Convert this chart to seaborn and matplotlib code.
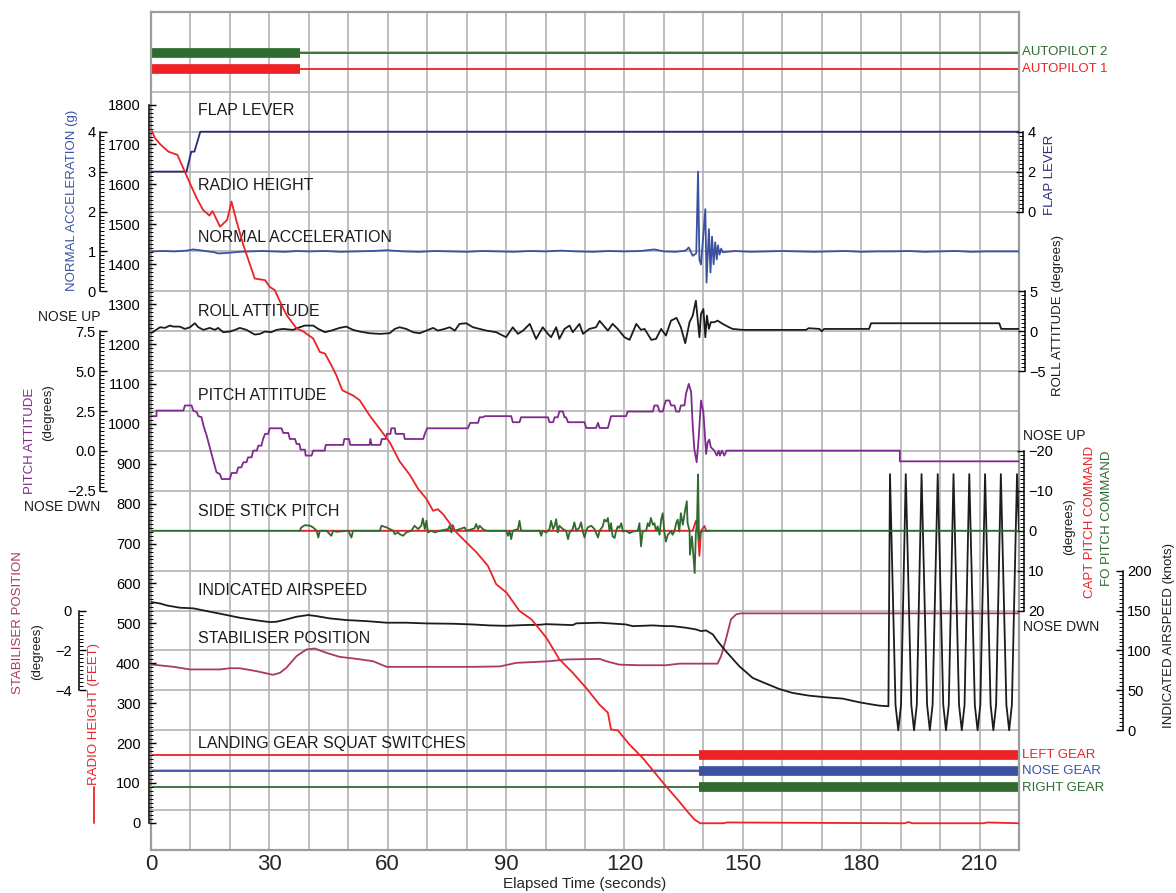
"""Flight data recorder traces: final approach and landing, 0-220 s."""

import matplotlib
matplotlib.use("Agg")
import matplotlib.pyplot as plt
import numpy as np
import seaborn as sns
from matplotlib.lines import Line2D
from matplotlib.ticker import FixedLocator, FuncFormatter

# ---- data (time in seconds) ----
flap_t = [0, 9.0, 10.2, 11.0, 12.5, 220]
flap_v = [2, 2, 3, 3, 4, 4]

rh_t = [0, 1.0, 2.3, 4.4, 6.7, 7.8, 9.5, 11.6, 13.2, 14.8, 15.6, 17.5, 19.3, 20.4, 21.7,
        23.4, 26.3, 28.9, 30.1, 31.4, 32.7, 34.4, 36.9, 38.5, 41.1, 42.8, 44.1, 45.7, 47.0,
        48.5, 51.2, 52.9, 55.4, 58.0, 60.5, 63.0, 65.6, 67.7, 69.8, 71.5, 72.7, 74.0, 77.4,
        79.9, 82.5, 85.4, 87.5, 90.1, 93.4, 96.4, 98.5, 100.2, 103.5, 106.9, 110.3, 113.7,
        115.8, 116.6, 118.3, 121.3, 124.6, 127.5, 130.5, 133.5, 136.0, 137.8, 139.2, 145,
        146, 191, 192, 193, 211, 212, 220]
rh_v = [1739, 1716, 1701, 1682, 1674, 1649, 1611, 1565, 1536, 1522, 1533, 1494, 1511, 1557,
        1507, 1448, 1364, 1360, 1343, 1335, 1306, 1272, 1239, 1232, 1214, 1180, 1176, 1147,
        1121, 1084, 1071, 1059, 1021, 987, 954, 906, 872, 837, 812, 782, 786, 774, 728, 703,
        678, 644, 598, 577, 531, 510, 485, 464, 410, 376, 338, 296, 276, 234, 232, 196, 163,
        128, 92, 58, 28, 8, -1, -1, 1, -1, 2, -1, -1, 1, -1]

na_t = [0, 3, 6, 9, 10.7, 13, 16, 17, 19, 22.5, 25, 28, 31, 34, 37, 40, 44, 48, 52, 56,
        59.7, 64, 68, 72, 76, 80, 84, 88, 92, 96, 100, 104, 108, 112, 116, 120, 124, 127.6,
        130, 133, 135.5, 136.3, 137.3, 138.2, 138.65, 139.0, 139.4, 140.5, 140.8, 141.4,
        141.8, 142.2, 142.6, 143.0, 143.4, 143.7, 144.1, 144.5, 144.9, 148, 152, 156, 160,
        164, 168, 172, 176, 180, 184, 188, 192, 196, 200, 204, 208, 212, 216, 220]
na_v = [1.0, 1.01, 1.0, 1.02, 1.05, 1.02, 0.98, 0.95, 0.96, 0.99, 1.0, 1.01, 1.0, 0.99,
        1.01, 1.0, 1.01, 0.99, 1.0, 1.01, 1.03, 1.0, 0.99, 1.01, 1.0, 0.99, 1.01, 1.0, 0.99,
        1.01, 1.0, 1.02, 1.0, 0.99, 1.01, 1.0, 1.01, 1.05, 1.0, 0.99, 1.02, 1.1, 0.89, 0.95,
        3.0, 0.8, 0.67, 2.06, 0.22, 1.56, 0.47, 1.37, 0.68, 1.23, 0.8, 1.15, 0.92, 1.07,
        0.98, 1.01, 0.99, 1.0, 1.01, 1.0, 0.99, 1.0, 1.01, 0.99, 1.0, 1.0, 1.01, 0.99, 1.0,
        1.01, 0.99, 1.0, 1.0, 1.0]

roll_t = [0, 1.0, 2.3, 3.5, 4.8, 5.7, 7.3, 8.6, 9.9, 11.1, 12.0, 13.3, 14.9, 16.2, 17.0,
          18.3, 20.0, 21.3, 22.5, 24.2, 26.3, 27.6, 28.9, 30.5, 31.8, 33.5, 36.0, 37.7, 39.0,
          41.1, 42.4, 44.1, 45.7, 47.8, 49.5, 51.2, 52.9, 55.4, 58.0, 60.5, 61.8, 63.0, 64.7,
          66.4, 68.1, 69.8, 71.5, 72.7, 74.4, 75.7, 77.0, 78.2, 79.9, 81.6, 83.3, 85.0, 87.5,
          90.0, 91.7, 93.0, 94.3, 96.0, 97.6, 99.3, 100.6, 101.4, 102.7, 103.5, 104.8, 106.1,
          106.9, 108.6, 109.5, 111.1, 112.8, 113.7, 115.8, 117.0, 118.3, 120.0, 121.3, 123.0,
          124.2, 125.1, 126.8, 128.0, 129.3, 130.5, 131.8, 133.2, 134.3, 135.4, 136.5, 137.3,
          138.1, 139.0, 139.4, 140.0, 140.5, 140.9, 141.4, 141.9, 142.8, 143.6, 144.9, 146.2,
          147.4, 150.0, 166.0, 166.7, 169.4, 170.0, 170.6, 182.0, 182.5, 215.0, 215.5, 220]
roll_v = [-0.25, 0.08, 0.5, 0.42, 0.71, 0.58, 0.58, 0.29, 0.5, 1.0, 0.5, 0.17, 0.42, 0.17,
          0.42, -0.12, -0.04, 0.17, 0.42, 0.17, -0.42, -0.33, -0.04, -0.12, 0.17, 0.29, 0.17,
          0.5, 0.71, 0.71, 0.29, -0.12, 0.08, 0.42, 0.58, 0.17, -0.04, -0.25, -0.33, -0.25,
          0.29, 0.5, 0.29, -0.12, -0.25, 0.08, 0.42, 0.08, 0.29, 0.5, 0.08, 0.92, 1.0, 0.5,
          0.29, 0.08, -0.12, -0.75, 0.5, -0.33, 0.08, 0.92, -0.96, 0.5, -0.33, -0.75, 0.5,
          -0.96, 0.29, 0.71, -0.12, 0.92, -0.33, 0.29, 0.5, 1.3, 0.08, 0.92, 0.29, -0.75,
          -1.08, 0.92, 0.17, 0.29, -1.08, -0.96, 0.29, -0.54, 1.33, 1.67, 0.5, -1.5, 1.13,
          1.96, 3.83, -0.75, 2.17, 2.79, -0.75, 1.96, 0.29, 1.13, 1.13, 1.33, 0.92, 0.58,
          0.29, 0.17, 0.17, 0.38, 0.29, 0.0, 0.29, 0.29, 1.0, 1.0, 0.29, 0.29]

pitch_t = [0, 1.4, 1.4, 8.2, 8.6, 10.3, 10.7, 11.6, 12.0, 12.8, 13.3, 14.1, 15.0, 15.8, 16.6,
           17.5, 17.9, 20.0, 20.4, 21.7, 22.1, 22.9, 23.4, 24.2, 24.6, 25.5, 25.9, 26.8, 27.2,
           28.0, 28.4, 28.9, 29.7, 30.1, 33.1, 33.5, 34.8, 35.2, 36.5, 36.9, 37.6, 37.9, 39.0,
           39.2, 40.7, 41.1, 44.0, 44.3, 48.7, 49.0, 50.2, 50.5, 55.4, 55.6, 55.9, 58.1, 58.5,
           59.5, 59.8, 60.7, 60.9, 61.8, 62.0, 64.1, 64.3, 69.0, 69.4, 70.0, 80.3, 80.9, 82.9,
           83.3, 84.1, 84.6, 91.3, 91.7, 93.4, 93.8, 100.6, 101.0, 101.9, 102.3, 103.1, 103.5,
           104.4, 104.8, 105.2, 105.7, 109.9, 110.3, 112.8, 113.3, 113.7, 115.8, 116.2, 116.6,
           120.4, 120.8, 127.2, 127.6, 128.4, 128.9, 129.7, 130.1, 130.5, 131.4, 131.8, 132.7,
           133.1, 133.9, 134.3, 135.2, 135.6, 136.3, 136.9, 137.3, 137.7, 138.3, 138.8, 139.4,
           140.0, 140.7, 141.1, 141.5, 141.9, 142.8, 143.4, 143.9, 144.2, 144.7, 145.3, 145.9,
           189.8, 189.8, 220]
pitch_v = [2.18, 2.18, 2.53, 2.53, 2.85, 2.85, 2.53, 2.43, 2.18, 2.12, 1.59, 0.96, 0.13,
           -0.61, -1.34, -1.45, -1.76, -1.76, -1.38, -1.38, -1.03, -1.03, -0.71, -0.71, -0.4,
           -0.4, 0.02, 0.02, 0.33, 0.33, 0.75, 1.07, 1.07, 1.42, 1.42, 1.13, 1.13, 0.75, 0.75,
           0.44, 0.44, 0.08, 0.08, -0.29, -0.29, 0.02, 0.02, 0.38, 0.38, 0.75, 0.75, 0.38, 0.38,
           0.75, 0.38, 0.38, 0.75, 0.75, 1.07, 1.07, 1.42, 1.42, 1.07, 1.07, 0.75, 0.75, 1.07,
           1.42, 1.42, 1.76, 1.76, 2.11, 2.11, 2.18, 2.18, 1.8, 1.8, 2.11, 2.11, 1.8, 1.8, 2.11,
           2.11, 2.47, 2.47, 2.11, 2.11, 1.8, 1.8, 1.44, 1.44, 1.76, 1.44, 1.44, 1.8, 2.18,
           2.18, 2.47, 2.47, 2.85, 2.85, 2.47, 2.47, 2.85, 3.16, 3.16, 2.85, 2.85, 2.47, 2.47,
           2.85, 2.85, 3.58, 4.2, 3.69, 1.59, 0.13, -0.71, 0.75, 3.16, 2.43, -0.19, 0.54, 0.71,
           0.23, 0.02, -0.29, 0.02, -0.29, 0.02, -0.29, 0.02, 0.02, -0.65, -0.65]

capt_t = [37.7, 137.3, 138.1, 138.6, 139.0, 139.4, 140.3, 140.7, 141.5]
capt_v = [0, 0, -2.5, 0, 6.3, 0, -1.2, 0, 0]

fo_t = [0, 37.7, 38.1, 39.0, 40.3, 41.1, 42.0, 42.4, 42.8, 44.5, 45.7, 46.2, 47.0, 50.0, 50.4,
        50.8, 51.2, 58.0, 58.4, 59.7, 61.4, 61.8, 62.6, 63.0, 63.9, 64.7, 66.0, 66.8, 67.7,
        68.5, 68.9, 69.4, 69.8, 70.2, 71.1, 71.9, 73.2, 75.3, 75.7, 76.1, 76.5, 77.0, 79.5,
        79.9, 82.0, 82.4, 82.9, 83.3, 84.1, 85.0, 90.0, 90.5, 90.9, 91.3, 91.7, 93.0, 93.4,
        93.8, 98.5, 98.9, 99.3, 100.2, 101.0, 101.4, 101.9, 102.3, 102.7, 103.1, 103.5, 104.4,
        105.2, 105.7, 106.1, 106.9, 107.3, 107.8, 108.6, 109.0, 109.5, 109.9, 110.3, 110.7,
        111.6, 112.4, 113.3, 113.7, 114.5, 114.9, 115.4, 115.8, 116.2, 116.6, 117.0, 117.5,
        117.9, 118.3, 118.7, 119.2, 119.6, 120.4, 121.3, 122.1, 123.4, 123.8, 124.2, 124.6,
        125.5, 125.9, 126.3, 126.7, 127.2, 127.6, 128.0, 128.4, 128.9, 129.3, 129.7, 130.1,
        130.5, 131.0, 131.4, 131.8, 132.2, 132.7, 133.1, 133.5, 133.9, 134.3, 134.8, 135.2,
        135.4, 135.8, 136.0, 136.5, 136.6, 137.1, 137.55, 137.8, 138.1, 138.4, 138.65, 138.9,
        139.2, 139.8, 220]
fo_v = [0, 0, -0.84, -1.4, -1.26, -0.84, 0, 1.7, 0, 0, 1.26, 0, 0.25, 0, 0.84, 1.7, 0, 0,
        -1.26, -0.84, 0, 0.84, 0.4, 0.84, 1.26, 0.42, 0, -1.26, -0.42, -1.26, -3.1, -0.42,
        -2.5, 0.42, 0, 0.42, 0, -0.42, -1.26, 0.42, -1.4, 0, -0.84, 0, -0.6, -1.7, -0.42,
        -1.26, -0.42, 0, 0, 1.26, 0, 2.1, 0, -0.42, -2.5, 0, 0, 1.26, 0, 0.42, -0.42, -2.5,
        -0.42, -1.26, -2.9, 0.42, -1.26, -0.42, 0, 2.1, 0.42, -0.42, -2.1, 0, -0.84, -2.1,
        0.42, 1.7, 0, -0.84, -1.26, -0.42, 1.7, 0, -1.1, -2.8, -2.3, -3.2, 0, -1.9, 1.4, 1.8,
        0, -1.1, -0.7, -1.9, 0.2, 0, 0.6, 0.2, 0, -1.9, 3.9, 0.2, 0, -1.9, -1.1, -3.2, -1.5,
        -1.9, 0, -1.1, 1.0, -2.8, -4.4, 0.2, 2.7, 1.0, 0.6, 0, 1.0, 0, -1.9, -2.8, 0.2, -4.4,
        -1.5, -4.0, -5.3, -7.4, -1.9, 0, 6.0, 1.4, 7.3, 10.6, 0.6, -2.3, -14.1, 2.3, 0.6, 0, 0]

ias_t = [0, 2.3, 4.0, 7.3, 10.7, 14.1, 18.3, 22.5, 26.8, 30.1, 31.8, 34.3, 36.9, 39.8, 41.9,
         45.3, 49.5, 54.6, 59.7, 64.7, 69.8, 76.5, 81.6, 85.8, 90.0, 94.3, 98.5, 100.2, 106.9,
         107.8, 113.7, 120.4, 122.1, 127.2, 130.5, 132.2, 135.6, 138.1, 139.4, 140.7, 142.4,
         143.6, 145.7, 149.1, 152.5, 155.9, 159.2, 162.6, 166.8, 171.1, 175.3, 179.5, 182.9,
         184.6, 186.9,
         187.3, 188.7, 189.4, 190.1, 191.3, 192.7, 193.4, 194.1, 195.3, 196.7, 197.4, 198.1,
         199.4, 200.8, 201.5, 202.2, 203.4, 204.8, 205.5, 206.2, 207.4, 208.8, 209.5, 210.2,
         211.4, 212.8, 213.5, 214.2, 215.4, 216.8, 217.5, 218.2, 219.5, 220]
ias_v = [160.7, 158.9, 156.4, 153.6, 152.8, 149.4, 145.3, 141.0, 137.7, 135.6, 136.0, 138.9,
         142.3, 144.4, 143.1, 140.2, 138.1, 136.8, 134.8, 134.8, 133.9, 133.5, 132.6, 131.4,
         130.9, 131.8, 132.2, 133.0, 131.8, 134.0, 134.8, 132.6, 130.5, 131.4, 130.5, 130.5,
         128.5, 126.4, 124.3, 125.1, 120.1, 111.7, 99.1, 80.3, 65.6, 58.5, 51.8, 46.8, 43.4,
         41.3, 39.7, 35.1, 32.2, 30.9, 30.1,
         321, 32, 0, 32, 321, 32, 0, 32, 321, 32, 0, 32, 321, 32, 0, 32, 321, 32, 0, 32,
         321, 32, 0, 32, 321, 32, 0, 32, 321, 32, 0, 32, 321, 250]

stab_t = [0, 5.7, 9.9, 17.5, 20.0, 22.5, 26.8, 30.9, 32.7, 34.3, 36.9, 39.4, 41.5, 44.5,
          47.8, 52.1, 56.3, 59.7, 63.9, 81.6, 88.4, 92.6, 101.0, 105.2, 113.7, 115.4, 118.7,
          123.8, 130.5, 134.0, 143.6, 144.5, 145.7, 147.0, 148.3, 149.5, 220]
stab_v = [-2.7, -2.82, -2.95, -2.95, -2.89, -2.89, -3.04, -3.22, -3.12, -2.87, -2.28, -1.95,
          -1.9, -2.12, -2.32, -2.42, -2.54, -2.82, -2.82, -2.82, -2.8, -2.62, -2.54, -2.45,
          -2.42, -2.54, -2.71, -2.74, -2.74, -2.66, -2.66, -2.28, -1.45, -0.44, -0.19, -0.14,
          -0.14]

autopilot_off_t = 37.8
gear_down_t = 139.0
x_ticks = [0, 30, 60, 90, 120, 150, 180, 210]

# ---- styling ----
W, H = 1176, 893
L, R, T, B = 151, 1019, 12, 850
NG = 21  # horizontal grid rows

RED = "#ec2227"
GREEN = "#2f6a31"
BLUE = "#3b52a3"
NAVY = "#27297e"
PURPLE = "#7f2a8e"
MAROON = "#a8396a"
BLACK = "#1c1c1c"
GRID = "#b3b3b3"
LW = 1.3

sns.set_theme(style="white")
plt.rcParams["font.family"] = ["Liberation Sans", "DejaVu Sans"]
NARROW = ["Liberation Sans Narrow", "Liberation Sans", "DejaVu Sans"]

fig = plt.figure(figsize=(W / 100, H / 100), dpi=100)
fig.patch.set_facecolor("white")
ax = fig.add_axes([L / W, 1 - B / H, (R - L) / W, (B - T) / H])
ax.set_xlim(0, 220)
ax.set_ylim(0, NG)
ax.set_xticks(np.arange(0, 221, 10))
ax.set_xticklabels([str(v) if v in x_ticks else "" for v in range(0, 221, 10)],
                   fontsize=16, family=NARROW)
ax.set_yticks(np.arange(0, NG + 1))
ax.set_yticklabels([])
ax.tick_params(length=0, pad=3)
ax.grid(True, color=GRID, lw=1.2)
ax.set_axisbelow(True)
for s in ax.spines.values():
    s.set_color("#9c9c9c")
    s.set_linewidth(1.6)


def fx(x):
    return x / W


def fy(y):
    return 1 - y / H


def scale(side, x_px, lo, hi, g0, per, major, minor, fmt, invert=False, pad=3):
    tw = ax.twinx()
    if invert:
        tw.set_ylim(g0 * per, (g0 - NG) * per)
    else:
        tw.set_ylim(-g0 * per, (NG - g0) * per)
    for s in tw.spines.values():
        s.set_visible(False)
    sp = tw.spines[side]
    sp.set_visible(True)
    sp.set_position(("axes", (x_px - L) / (R - L)))
    sp.set_bounds(lo, hi)
    sp.set_color("black")
    sp.set_linewidth(1.1)
    if side == "left":
        tw.yaxis.tick_left()
    else:
        tw.yaxis.tick_right()
    nmaj = int(round((hi - lo) / major))
    nmin = int(round((hi - lo) / minor))
    tw.yaxis.set_major_locator(FixedLocator(lo + major * np.arange(nmaj + 1)))
    tw.yaxis.set_minor_locator(FixedLocator(lo + minor * np.arange(nmin + 1)))
    tw.yaxis.set_major_formatter(FuncFormatter(lambda v, p: (fmt % v).replace("-", "\u2212")))
    on_left = side == "left"
    tw.tick_params(axis="y", which="both", left=on_left, right=not on_left,
                   labelleft=on_left, labelright=not on_left)
    tw.tick_params(axis="y", which="major", direction="in", length=5, width=1.0,
                   labelsize=10.5, pad=pad, colors="black")
    tw.tick_params(axis="y", which="minor", direction="in", length=3, width=0.7,
                   colors="black")
    tw.grid(False)
    return tw


def trace(axis, t, v, color, lw=LW):
    sns.lineplot(x=t, y=v, ax=axis, color=color, linewidth=lw, estimator=None, sort=False)


# stabiliser
ax_st = scale("left", 79, -4, 0, 6, 2, 2, 0.2, "%d", pad=5)
trace(ax_st, stab_t, stab_v, MAROON)

# indicated airspeed
ax_ias = scale("right", 1123, 0, 200, 3, 50, 50, 5, "%d")
trace(ax_ias, ias_t, ias_v, BLACK)

# discrete signals on the grid axis
levels = {"ap2": 19.97, "ap1": 19.56, "left": 2.38, "nose": 1.98, "right": 1.58}
for key, col, t0, t1 in [("ap2", GREEN, 0, autopilot_off_t), ("ap1", RED, 0, autopilot_off_t),
                         ("left", RED, gear_down_t, 220), ("nose", BLUE, gear_down_t, 220),
                         ("right", GREEN, gear_down_t, 220)]:
    trace(ax, [0, 220], [levels[key]] * 2, col, lw=1.3)
    sns.lineplot(x=[t0, t1], y=[levels[key]] * 2, ax=ax, color=col, linewidth=7,
                 solid_capstyle="butt")

# side stick
ax_ss = scale("right", 1024, -20, 20, 8, 10, 10, 1, "%d", invert=True)
trace(ax_ss, capt_t, capt_v, RED)
trace(ax_ss, fo_t, fo_v, GREEN)

# pitch attitude
ax_p = scale("left", 100, -2.5, 7.5, 10, 2.5, 2.5, 0.25, "%.1f")
trace(ax_p, pitch_t, pitch_v, PURPLE)

# roll attitude
ax_r = scale("right", 1025, -5, 5, 13, 5, 5, 0.5, "%d")
trace(ax_r, roll_t, roll_v, BLACK)

# normal acceleration
ax_na = scale("left", 100, 0, 4, 14, 1, 1, 0.1, "%d")
trace(ax_na, na_t, na_v, BLUE)

# flap lever
ax_f = scale("right", 1023, 0, 4, 16, 2, 2, 0.2, "%d")
trace(ax_f, flap_t, flap_v, NAVY)

# radio height
ax_rh = scale("left", 149, 0, 1800, 0.68, 100, 100, 10, "%d", pad=6)
trace(ax_rh, rh_t, rh_v, RED)

for a in fig.axes:
    a.set_xlim(0, 220)
    a.set_ylabel("")
    a.set_xlabel("")
ax.set_xlabel("Elapsed Time (seconds)", fontsize=11, family=NARROW, labelpad=1)

# in-plot trace names
for txt, g in [("FLAP LEVER", 18.53), ("RADIO HEIGHT", 16.65), ("NORMAL ACCELERATION", 15.34),
               ("ROLL ATTITUDE", 13.5), ("PITCH ATTITUDE", 11.39), ("SIDE STICK PITCH", 8.48),
               ("INDICATED AIRSPEED", 6.51), ("STABILISER POSITION", 5.29),
               ("LANDING GEAR SQUAT SWITCHES", 2.68)]:
    ax.text(12, g, txt, fontsize=11.5, color=BLACK, ha="left", va="center")


# axis titles
def vtext(x, y, s, color, size=9.5):
    fig.text(fx(x), fy(y), s, rotation=90, color=color, fontsize=size,
             ha="center", va="center")


def htext(x, y, s, color=BLACK, ha="left", size=9.5):
    fig.text(fx(x), fy(y), s, color=color, fontsize=size, ha=ha, va="center")


vtext(72, 200, "NORMAL ACCELERATION (g)", BLUE)
vtext(30, 441, "PITCH ATTITUDE", PURPLE)
vtext(48, 413, "(degrees)", BLACK)
vtext(18, 623, "STABILISER POSITION", MAROON)
vtext(37, 652, "(degrees)", BLACK)
vtext(94, 714, "RADIO HEIGHT (FEET)", RED)
fig.add_artist(Line2D([fx(94), fx(94)], [fy(787), fy(823)], color=RED, lw=1.3,
                      transform=fig.transFigure))
htext(100, 317, "NOSE UP", ha="right", size=10)
htext(100, 507, "NOSE DWN", ha="right", size=10)

vtext(1050, 175, "FLAP LEVER", NAVY)
vtext(1058, 316, "ROLL ATTITUDE (degrees)", BLACK)
htext(1023, 436, "NOSE UP", size=10)
htext(1023, 627, "NOSE DWN", size=10)
vtext(1069, 527, "(degrees)", BLACK)
vtext(1090, 522, "CAPT PITCH COMMAND", RED)
vtext(1107, 518, "FO PITCH COMMAND", GREEN)
vtext(1169, 636, "INDICATED AIRSPEED (knots)", BLACK)

htext(1022, 52, "AUTOPILOT 2", GREEN)
htext(1022, 69, "AUTOPILOT 1", RED)
htext(1022, 755, "LEFT GEAR", RED)
htext(1022, 771, "NOSE GEAR", BLUE)
htext(1022, 788, "RIGHT GEAR", GREEN)

fig.savefig("out.png", dpi=100)
